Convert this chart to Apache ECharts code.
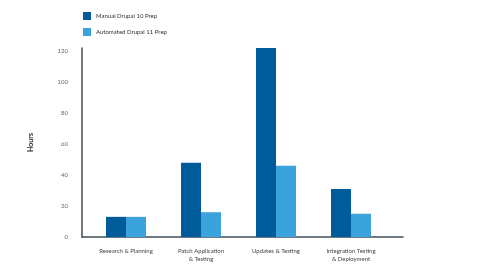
<!DOCTYPE html>
<html>
<head>
<meta charset="utf-8">
<script src="https://cdn.jsdelivr.net/npm/echarts@6/dist/echarts.min.js"></script>
<style>
  html, body { margin: 0; padding: 0; background: #fff; }
  #chart { width: 480px; height: 270px; }
</style>
</head>
<body>
<div id="chart"></div>
<script>
// chart data
const categories = ['Research & Planning', 'Patch Application\n& Testing', 'Updates & Testing', 'Integration Testing\n& Deployment']
const manualHours = [13, 48, 122, 31]
const automatedHours = [13, 16, 46, 15]
const seriesNames = ['Manual Drupal 10 Prep', 'Automated Drupal 11 Prep']
const yTicks = { min: 0, max: 122, interval: 20 }

const axisColor = '#3f4d59'
const font = 'Lato'

const chart = echarts.init(document.getElementById('chart'), null, { renderer: 'canvas' })

chart.setOption({
  animation: false,
  color: ['#005b9a', '#3ba3db'],
  textStyle: { fontFamily: font },
  legend: {
    orient: 'vertical',
    left: 78,
    top: 7,
    itemWidth: 8,
    itemHeight: 8,
    itemGap: 8,
    icon: 'rect',
    textStyle: { fontSize: 6, color: '#333', fontFamily: font },
    data: seriesNames
  },
  grid: [
    // frame grid: holds the long axis lines and y labels
    { left: 82, right: 77, top: 48, bottom: 33 },
    // bar grid: slightly narrower, same vertical scale
    { left: 88.5, right: 91.5, top: 48, bottom: 33 }
  ],
  xAxis: [
    {
      type: 'category',
      gridIndex: 0,
      data: [''],
      axisLine: { lineStyle: { color: axisColor, width: 1.5 } },
      axisTick: { show: false },
      axisLabel: { show: false }
    },
    {
      type: 'category',
      gridIndex: 1,
      data: categories,
      axisLine: { show: false },
      axisTick: { show: false },
      axisLabel: {
        fontSize: 6,
        color: '#444',
        lineHeight: 8,
        margin: 10,
        interval: 0,
        fontFamily: font
      }
    }
  ],
  yAxis: [
    {
      type: 'value',
      gridIndex: 0,
      min: yTicks.min,
      max: yTicks.max,
      interval: yTicks.interval,
      name: 'Hours',
      nameLocation: 'middle',
      nameRotate: 90,
      nameGap: 48,
      nameTextStyle: { fontSize: 7, fontWeight: 'bold', color: '#222', fontFamily: font },
      axisLine: { show: true, lineStyle: { color: axisColor, width: 1.5 } },
      axisTick: { show: false },
      splitLine: { show: false },
      axisLabel: { fontSize: 6, color: '#666', margin: 14, fontFamily: font }
    },
    {
      type: 'value',
      gridIndex: 1,
      min: yTicks.min,
      max: yTicks.max,
      interval: yTicks.interval,
      show: false,
      splitLine: { show: false }
    }
  ],
  series: [
    {
      name: seriesNames[0],
      type: 'bar',
      xAxisIndex: 1,
      yAxisIndex: 1,
      barWidth: 20,
      barGap: '0%',
      data: manualHours
    },
    {
      name: seriesNames[1],
      type: 'bar',
      xAxisIndex: 1,
      yAxisIndex: 1,
      barWidth: 20,
      barGap: '0%',
      data: automatedHours
    }
  ]
})
</script>
</body>
</html>
